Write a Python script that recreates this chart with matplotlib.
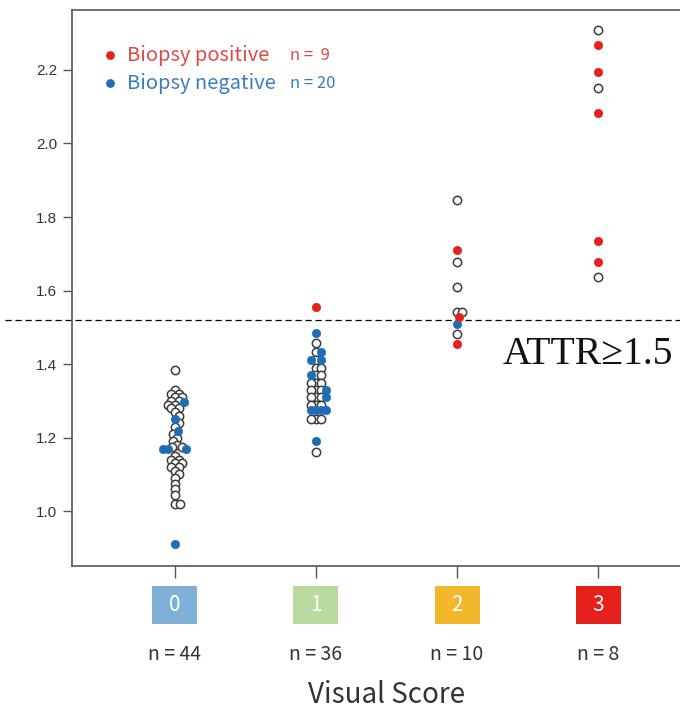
import numpy as np
import matplotlib
matplotlib.use("Agg")
import matplotlib.pyplot as plt
from matplotlib.patches import Rectangle

# ---------------- data ----------------
scores = [0, 1, 2, 3]
score_labels = ["0", "1", "2", "3"]
score_counts = [44, 36, 10, 8]
score_colors = ["#7eb0d8", "#b9dba0", "#f2b72a", "#e3201b"]

# no biopsy (open circles)
none_0 = [1.385, 1.33, 1.32, 1.32, 1.31, 1.31, 1.30, 1.30, 1.29, 1.29, 1.28, 1.28,
          1.27, 1.26, 1.24, 1.23, 1.21, 1.20, 1.19, 1.18, 1.175, 1.175,
          1.15, 1.14, 1.14, 1.13, 1.13, 1.12, 1.12, 1.11, 1.10,
          1.09, 1.075, 1.06, 1.045, 1.02, 1.02]
none_1 = [1.458, 1.432, 1.41, 1.39, 1.39, 1.37, 1.37, 1.35, 1.35, 1.35, 1.33, 1.33,
          1.33, 1.31, 1.31, 1.31, 1.29, 1.29, 1.29, 1.25, 1.25, 1.25, 1.16]
none_2 = [1.847, 1.679, 1.610, 1.541, 1.541, 1.483]
none_3 = [2.308, 2.152, 1.637]

# biopsy negative (blue)
neg_0 = [1.296, 1.25, 1.218, 1.168, 1.168, 1.168, 0.91]
neg_1 = [1.485, 1.432, 1.41, 1.41, 1.37, 1.33, 1.31, 1.275, 1.275, 1.275, 1.275, 1.19]
neg_2 = [1.510]
neg_3 = []

# biopsy positive (red)
pos_0 = []
pos_1 = [1.555]
pos_2 = [1.709, 1.528, 1.456]
pos_3 = [2.267, 2.195, 2.084, 1.735, 1.679]

threshold = 1.521
n_pos, n_neg = 9, 20

none_groups = [none_0, none_1, none_2, none_3]
neg_groups = [neg_0, neg_1, neg_2, neg_3]
pos_groups = [pos_0, pos_1, pos_2, pos_3]

# ---------------- figure ----------------
W, H = 680, 712
fig = plt.figure(figsize=(W / 100, H / 100), dpi=100)
ax_l, ax_r, ax_t, ax_b = 72, 701, 10, 566
ax = fig.add_axes([ax_l / W, 1 - ax_b / H, (ax_r - ax_l) / W, (ax_b - ax_t) / H])
ylim = (0.851, 2.363)
xlim = (-0.73, 3.73)
ax.set_ylim(*ylim)
ax.set_xlim(*xlim)

ypx = (ax_b - ax_t) / (ylim[1] - ylim[0])
xpx = (ax_r - ax_l) / (xlim[1] - xlim[0])


def swarm(vals, d=5.2):
    ys = np.asarray(vals) * ypx
    offs = np.zeros(len(ys))
    placed = []
    for i in np.argsort(-ys, kind="stable"):
        y = ys[i]
        near = [(x, yy) for x, yy in placed if abs(yy - y) < d]
        cands = [0.0]
        for x, yy in near:
            dx = np.sqrt(d * d - (y - yy) ** 2)
            cands += [x + dx, x - dx]
        cands = sorted(cands, key=lambda c: (abs(c), -c))
        for c in cands:
            if all((c - x) ** 2 + (y - yy) ** 2 >= d * d - 1e-6 for x, yy in near):
                offs[i] = c
                break
        placed.append((offs[i], y))
    return offs / xpx


ms = 36
edge = "#3c3c3c"
blue = "#1f6db5"
red = "#e6211c"
for s in scores:
    vals = list(none_groups[s]) + list(neg_groups[s]) + list(pos_groups[s])
    kinds = (["n"] * len(none_groups[s]) + ["b"] * len(neg_groups[s])
             + ["r"] * len(pos_groups[s]))
    offs = swarm(vals)
    vals = np.array(vals)
    kinds = np.array(kinds)
    xs = s + offs
    m = kinds == "n"
    ax.scatter(xs[m], vals[m], s=ms, facecolor="white", edgecolor=edge,
               linewidth=1.1, zorder=3)
    m = kinds == "b"
    ax.scatter(xs[m], vals[m], s=ms, facecolor=blue, edgecolor=blue,
               linewidth=0.5, zorder=4)
    m = kinds == "r"
    ax.scatter(xs[m], vals[m], s=ms, facecolor=red, edgecolor=red,
               linewidth=0.5, zorder=4)

# spines & ticks
for sp in ax.spines.values():
    sp.set_color("#555555")
    sp.set_linewidth(1.2)
ax.spines["right"].set_visible(False)
yt = np.round(np.arange(1.0, 2.21, 0.2), 1)
ax.set_yticks(yt)
ax.set_yticklabels([f"{v:.1f}" for v in yt], fontsize=11,
                   color="#333333", family="Liberation Sans")
ax.tick_params(axis="y", length=6.5, width=1, color="#555555", pad=4)
ax.set_xticks(scores)
ax.set_xticklabels([])
ax.tick_params(axis="x", length=8.5, width=1, color="#555555")

cjk = ["Noto Sans CJK JP", "DejaVu Sans"]

# coloured score boxes
axh = ax_b - ax_t
bw = 45 / xpx
bh = 38 / axh
ycen = (ax_b - 605) / axh
for s, lab, col, n in zip(scores, score_labels, score_colors, score_counts):
    ax.add_patch(Rectangle((s - bw / 2, ycen - bh / 2), bw, bh,
                           transform=ax.get_xaxis_transform(),
                           facecolor=col, edgecolor="none", clip_on=False))
    ax.text(s, ycen, lab, transform=ax.get_xaxis_transform(), ha="center",
            va="center", color="white", fontsize=15, family=cjk)
    ax.text(s, (ax_b - 655) / axh, f"n = {n}", transform=ax.get_xaxis_transform(),
            ha="center", va="center", color="#333333", fontsize=14, family=cjk)

ax.text(0.5, (ax_b - 695) / axh, "Visual Score", transform=ax.transAxes,
        ha="center", va="center", color="#333333", fontsize=20, family=cjk)

# legend
lx = (110 - ax_l) / (ax_r - ax_l)
tx = (127 - ax_l) / (ax_r - ax_l)
nx = (290 - ax_l) / (ax_r - ax_l)
for yy, col, tcol, lab, n in [(55, red, "#e04848", "Biopsy positive", f"n =  {n_pos}"),
                               (83, blue, "#3b7cc0", "Biopsy negative", f"n = {n_neg}")]:
    ya = (ax_b - yy) / axh
    ax.scatter([lx], [ya], s=28, color=col, transform=ax.transAxes, clip_on=False,
               zorder=5)
    ax.text(tx, ya, lab, transform=ax.transAxes, ha="left", va="center",
            color=tcol, fontsize=14.5, family=cjk)
    ax.text(nx, ya, n, transform=ax.transAxes, ha="left", va="center",
            color=tcol, fontsize=12, family=cjk)

# threshold line
ax.axhline(threshold, xmin=(5 - ax_l) / (ax_r - ax_l), xmax=1, clip_on=False,
           color="black", lw=0.9, ls=(0, (5, 3)), zorder=2)
ax.text((503 - 175) / xpx, 1.400, "ATTR\u22651.5", ha="left", va="baseline",
        fontsize=28.5, family=["Liberation Serif", "DejaVu Serif"], color="#111111",
        clip_on=False)

fig.savefig("out.png", dpi=100)
